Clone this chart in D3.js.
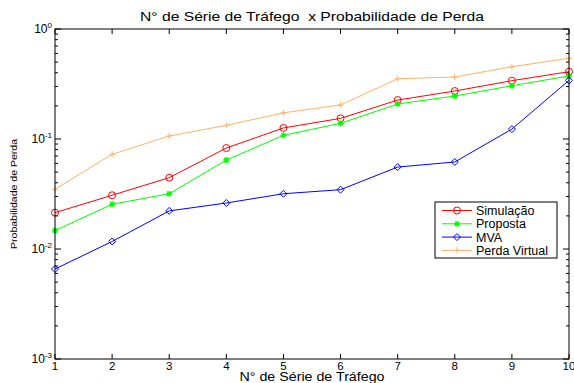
<!DOCTYPE html>
<html>
<head>
<meta charset="utf-8">
<script src="https://cdn.jsdelivr.net/npm/d3@7"></script>
<style>
body { margin: 0; background: #fff; }
svg { font-family: "Liberation Sans", Arial, sans-serif; }
</style>
</head>
<body>
<svg id="chart" width="574" height="383"></svg>
<script>
var categories = [1, 2, 3, 4, 5, 6, 7, 8, 9, 10];
var simulacao = [0.0214, 0.0308, 0.0445, 0.0828, 0.126, 0.154, 0.226, 0.273, 0.339, 0.409];
var proposta = [0.0147, 0.0255, 0.0318, 0.0644, 0.108, 0.139, 0.208, 0.246, 0.305, 0.374];
var mva = [0.00658, 0.0117, 0.0222, 0.0262, 0.0318, 0.0346, 0.0556, 0.0618, 0.123, 0.341];
var perdaVirtual = [0.0349, 0.0726, 0.1064, 0.133, 0.173, 0.204, 0.353, 0.366, 0.454, 0.541];
var seriesNames = ["Simulação", "Proposta", "MVA", "Perda Virtual"];
var yTickExps = [-3, -2, -1, 0];

var svg = d3.select('#chart'),
	margin = {top: 29, right: 5, bottom: 24, left: 55},
	width = +svg.attr("width") - margin.left - margin.right,
	height = +svg.attr("height") - margin.top - margin.bottom;

var chart = svg.append("g")
	.attr("transform", "translate(" + margin.left + "," + margin.top + ")");

var x = d3.scaleLinear().domain([1, 10]).range([0, width]);
var y = d3.scaleLog().domain([1e-3, 1]).range([height, 0]);

var series = [
	{name: seriesNames[0], values: simulacao, color: "#ff0000", marker: "circle"},
	{name: seriesNames[1], values: proposta, color: "#00ff00", marker: "star"},
	{name: seriesNames[2], values: mva, color: "#0000ff", marker: "diamond"},
	{name: seriesNames[3], values: perdaVirtual, color: "#ffb066", marker: "plus"}
];

// minor ticks for log axis
var minor = [];
for (var e = -3; e < 0; e++) {
	for (var k = 2; k <= 9; k++) minor.push(k * Math.pow(10, e));
}

var axes = chart.append("g").attr("stroke", "#000").attr("stroke-width", 1);
// x ticks, bottom and top, pointing in
categories.forEach(function(c) {
	axes.append("line").attr("x1", x(c)).attr("x2", x(c)).attr("y1", height).attr("y2", height - 5);
	axes.append("line").attr("x1", x(c)).attr("x2", x(c)).attr("y1", 0).attr("y2", 5);
});
yTickExps.forEach(function(e) {
	var v = Math.pow(10, e);
	axes.append("line").attr("x1", 0).attr("x2", 6).attr("y1", y(v)).attr("y2", y(v));
	axes.append("line").attr("x1", width).attr("x2", width - 6).attr("y1", y(v)).attr("y2", y(v));
});
minor.forEach(function(v) {
	axes.append("line").attr("x1", 0).attr("x2", 3).attr("y1", y(v)).attr("y2", y(v));
	axes.append("line").attr("x1", width).attr("x2", width - 3).attr("y1", y(v)).attr("y2", y(v));
});

var line = d3.line()
	.x(function(d, i) { return x(categories[i]); })
	.y(function(d) { return y(d); });

function drawMarker(g, type, color, cx, cy) {
	var m = g.append("g").attr("transform", "translate(" + cx + "," + cy + ")")
		.attr("stroke", color).attr("fill", "none").attr("stroke-width", 1);
	if (type === "circle") {
		m.append("circle").attr("r", 3.5);
	} else if (type === "diamond") {
		m.append("path").attr("d", "M0,-3.5L3.5,0L0,3.5L-3.5,0Z");
	} else if (type === "star") {
		m.append("path").attr("d", "M-3,0H3M0,-3V3M-2.2,-2.2L2.2,2.2M-2.2,2.2L2.2,-2.2").attr("stroke-width", 1.3);
	} else {
		m.append("path").attr("d", "M-3,0H3M0,-3V3");
	}
}

series.forEach(function(s) {
	chart.append("path")
		.datum(s.values)
		.attr("fill", "none")
		.attr("stroke", s.color)
		.attr("stroke-width", 1)
		.attr("d", line);
	s.values.forEach(function(v, i) {
		drawMarker(chart, s.marker, s.color, x(categories[i]), y(v));
	});
});

// frame
chart.append("rect").attr("width", width).attr("height", height)
	.attr("fill", "none").attr("stroke", "#000").attr("stroke-width", 1);

// x tick labels
chart.selectAll("text.xt").data(categories).enter().append("text")
	.attr("class", "xt")
	.attr("x", function(d) { return x(d); })
	.attr("y", height + 10.5)
	.attr("text-anchor", "middle")
	.attr("font-size", 11.5)
	.text(function(d) { return d; });

// y tick labels 10^e
yTickExps.forEach(function(e) {
	var t = chart.append("text")
		.attr("x", -3)
		.attr("y", y(Math.pow(10, e)) + 4)
		.attr("text-anchor", "end")
		.attr("font-size", 12);
	t.append("tspan").text("10");
	t.append("tspan").attr("dy", -5).attr("font-size", 8).text(e);
});

// title and labels
svg.append("text")
	.attr("x", margin.left + width / 2)
	.attr("y", 21)
	.attr("text-anchor", "middle")
	.attr("font-size", 13)
	.attr("xml:space", "preserve")
	.attr("textLength", 344)
	.attr("lengthAdjust", "spacingAndGlyphs")
	.text("N° de Série de Tráfego  x Probabilidade de Perda");

svg.append("text")
	.attr("x", margin.left + width / 2)
	.attr("y", 381)
	.attr("text-anchor", "middle")
	.attr("font-size", 12.5)
	.attr("textLength", 145)
	.attr("lengthAdjust", "spacingAndGlyphs")
	.text("N° de Série de Tráfego");

svg.append("text")
	.attr("transform", "translate(17," + (margin.top + height / 2) + ") rotate(-90)")
	.attr("text-anchor", "middle")
	.attr("font-size", 9.5)
	.attr("textLength", 110)
	.attr("lengthAdjust", "spacingAndGlyphs")
	.text("Probabilidade de Perda");

// legend
var legend = svg.append("g").attr("transform", "translate(435,202)");
legend.append("rect").attr("width", 122).attr("height", 56)
	.attr("fill", "#fff").attr("stroke", "#000").attr("stroke-width", 1);
series.forEach(function(s, i) {
	var ly = 8.5 + i * 13.3;
	legend.append("line").attr("x1", 7).attr("x2", 37).attr("y1", ly).attr("y2", ly)
		.attr("stroke", s.color).attr("stroke-width", 1);
	drawMarker(legend, s.marker, s.color, 22, ly);
	legend.append("text").attr("x", 41).attr("y", ly + 4.5)
		.attr("font-size", 12.5).text(s.name);
});
</script>
</body>
</html>
